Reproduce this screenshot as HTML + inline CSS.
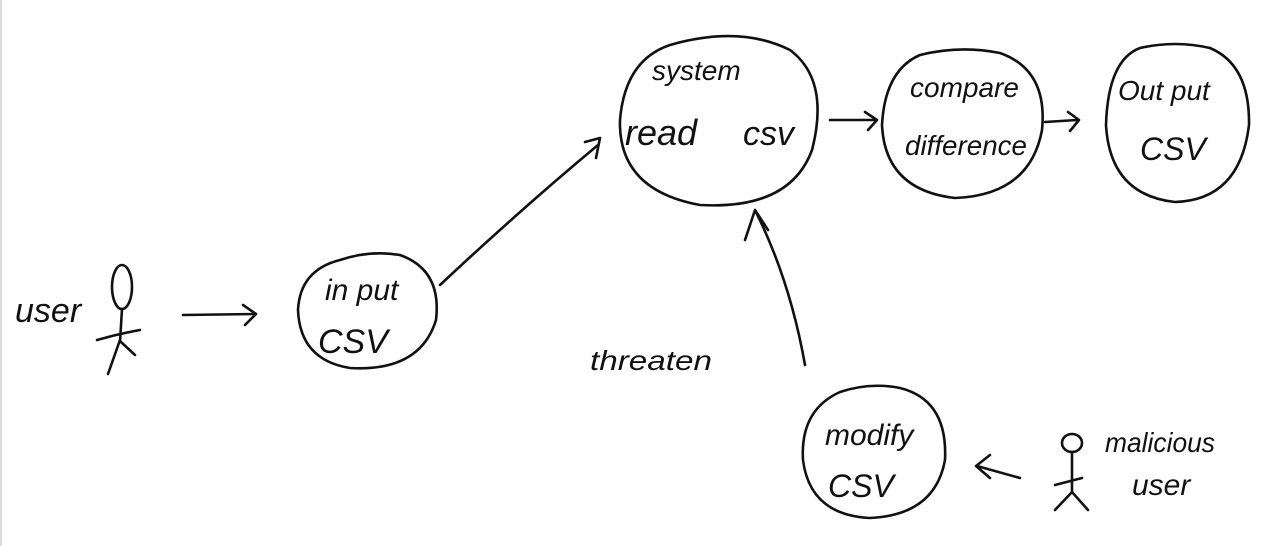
<!DOCTYPE html>
<html><head><meta charset="utf-8"><style>
html,body{margin:0;padding:0;background:#fff;}
svg{display:block}
text{font-family:"Liberation Sans",sans-serif;fill:#111;font-style:italic;}
</style></head><body>
<svg width="1280" height="546" viewBox="0 0 1280 546" xmlns="http://www.w3.org/2000/svg">
<rect width="1280" height="546" fill="#fff"/>
<line x1="1" y1="0" x2="1" y2="546" stroke="#ddd" stroke-width="2"/>
<g fill="none" stroke="#111" stroke-width="2.6" stroke-linecap="round" stroke-linejoin="round">
<!-- user stick figure -->
<ellipse cx="122" cy="287" rx="10" ry="22"/>
<path d="M122 309 L120 342"/>
<path d="M97 340 Q118 334 140 330"/>
<path d="M120 340 L108 374 M121 342 L135 355"/>
<!-- arrow user->input -->
<path d="M183 315 L255 314 M243 305 L256 314 L245 325"/>
<!-- input csv -->
<path d="M340 260 Q300 270 298 310 Q300 360 350 368 Q420 372 436 320 Q442 270 400 255 Q370 250 340 260 Z"/>
<!-- arrow to system -->
<path d="M440 285 Q520 210 598 145 M585 142 L600 138 L596 158"/>
<!-- system read csv -->
<path d="M670 45 Q625 60 620 120 Q618 190 700 205 Q790 210 812 150 Q830 80 790 50 Q740 25 670 45 Z"/>
<!-- arrow system->compare -->
<path d="M830 120 L875 120 M865 112 L877 120 L868 130"/>
<!-- compare difference -->
<path d="M920 55 Q885 70 882 125 Q885 190 955 198 Q1030 195 1042 130 Q1048 70 1000 53 Q960 45 920 55 Z"/>
<!-- arrow compare->output -->
<path d="M1045 122 L1077 120 M1068 112 L1079 120 L1070 131"/>
<!-- output csv -->
<path d="M1140 48 Q1108 60 1106 125 Q1110 195 1175 202 Q1240 200 1249 125 Q1250 65 1210 48 Q1175 40 1140 48 Z"/>
<!-- modify -> system arrow -->
<path d="M805 365 Q790 280 755 210 M745 240 L755 210 L768 230"/>
<!-- modify csv -->
<path d="M840 392 Q800 410 803 460 Q810 515 870 518 Q935 515 945 460 Q948 400 900 388 Q870 382 840 392 Z"/>
<!-- arrow malicious -> modify -->
<path d="M1020 478 L977 466 M990 455 L976 466 L990 478"/>
<!-- malicious stick figure -->
<ellipse cx="1072" cy="443" rx="10" ry="9"/>
<path d="M1072 452 L1072 492 M1055 485 L1082 478 M1072 492 L1055 510 M1072 492 L1088 510"/>
</g>
<text x="15" y="322" font-size="34">user</text>
<text x="325" y="300" font-size="30">in put</text>
<text x="318" y="353" font-size="34">CSV</text>
<text x="652" y="80" font-size="28">system</text>
<text x="625" y="145" font-size="36">read</text>
<text x="743" y="145" font-size="34">csv</text>
<text x="910" y="97" font-size="28">compare</text>
<text x="905" y="155" font-size="28" textLength="122" lengthAdjust="spacingAndGlyphs">difference</text>
<text x="1118" y="100" font-size="28">Out put</text>
<text x="1140" y="160" font-size="32">CSV</text>
<text x="590" y="370" font-size="28" textLength="122" lengthAdjust="spacingAndGlyphs">threaten</text>
<text x="825" y="445" font-size="30">modify</text>
<text x="828" y="497" font-size="32">CSV</text>
<text x="1105" y="452" font-size="28" textLength="110" lengthAdjust="spacingAndGlyphs">malicious</text>
<text x="1132" y="495" font-size="30">user</text>
</svg>
</body></html>
